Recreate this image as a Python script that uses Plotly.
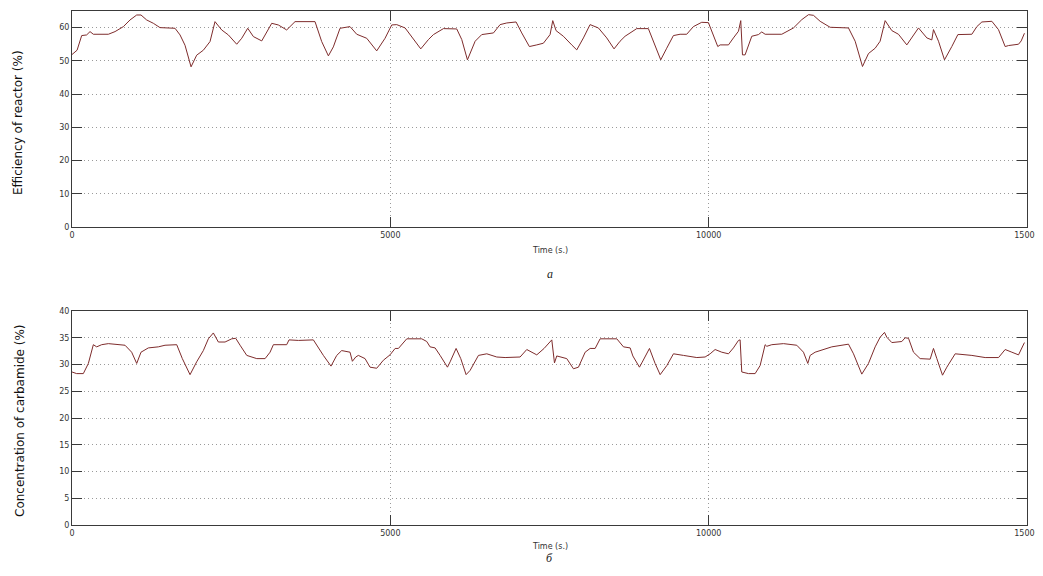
import plotly.graph_objects as go
from plotly.subplots import make_subplots

# ---- data: top panel (efficiency of reactor, %) ----
time_eff = [0, 80, 152, 230, 283, 335, 571, 676, 807, 911, 1016, 1084, 1173, 1278, 1382,
            1618, 1697, 1775, 1870, 1958, 2063, 2168, 2246, 2351, 2456, 2587, 2666, 2760,
            2849, 2980, 3137, 3241, 3372, 3503, 3817, 3922, 4027, 4105, 4210, 4367, 4472,
            4629, 4786, 4917, 5022, 5100, 5232, 5363, 5478, 5598, 5677, 5834, 6043, 6122,
            6211, 6332, 6436, 6620, 6724, 6829, 6975, 7064, 7184, 7300, 7404, 7509, 7551,
            7603, 7718, 7849, 7928, 8033, 8137, 8268, 8399, 8514, 8608, 8687, 8765, 8870,
            9053, 9132, 9247, 9341, 9446, 9551, 9655, 9760, 9891, 9996, 10049, 10143,
            10180, 10311, 10389, 10468, 10504, 10531, 10572, 10677, 10782, 10834, 10887,
            11148, 11332, 11463, 11568, 11646, 11751, 11908, 12196, 12301, 12416, 12510,
            12615, 12693, 12772, 12877, 12981, 13112, 13296, 13427, 13505, 13531, 13610,
            13704, 13819, 13914, 14134, 14212, 14291, 14448, 14552, 14657, 14710, 14867,
            14909, 14960]
efficiency = [51.9, 53.2, 57.6, 57.8, 58.8, 58.0, 58.0, 58.8, 60.3, 62.3, 63.8, 63.8, 62.3,
              61.3, 60.0, 59.8, 57.8, 54.7, 48.2, 51.7, 53.2, 55.8, 61.8, 59.3, 57.8, 55.0,
              56.8, 59.8, 57.3, 56.0, 61.3, 60.8, 59.3, 61.8, 61.8, 55.8, 51.5, 54.2, 59.8,
              60.3, 58.0, 56.8, 53.0, 56.8, 60.8, 60.9, 59.9, 56.4, 53.6, 56.4, 57.9, 59.7,
              59.6, 56.4, 50.3, 55.9, 57.9, 58.4, 60.9, 61.4, 61.7, 58.4, 54.3, 54.8, 55.3,
              57.9, 62.1, 59.1, 57.4, 54.8, 53.3, 56.9, 60.9, 59.9, 56.9, 53.6, 55.9, 57.4,
              58.4, 59.7, 59.7, 55.9, 50.3, 53.8, 57.6, 58.0, 58.0, 60.3, 61.6, 61.5, 58.9,
              54.3, 54.8, 54.8, 56.9, 58.9, 62.1, 51.8, 51.8, 57.4, 57.9, 58.7, 58.0, 58.0,
              59.9, 62.4, 63.9, 63.7, 61.9, 60.1, 59.9, 55.9, 48.3, 52.2, 53.8, 55.9, 62.1,
              59.1, 58.0, 54.8, 59.9, 56.9, 56.3, 59.4, 55.9, 50.3, 54.3, 57.9, 58.0, 60.3,
              61.7, 61.9, 59.4, 54.3, 54.6, 55.0, 56.0, 58.3]

# ---- data: bottom panel (concentration of carbamide, %) ----
time_conc = [0, 73, 178, 257, 335, 388, 466, 571, 833, 937, 1016, 1084, 1199, 1356, 1461,
             1645, 1733, 1854, 1958, 2063, 2142, 2220, 2299, 2404, 2509, 2571, 2640, 2745,
             2902, 3033, 3111, 3163, 3372, 3409, 3556, 3791, 3948, 4068, 4158, 4236, 4367,
             4404, 4457, 4498, 4603, 4681, 4786, 4891, 4995, 5075, 5127, 5258, 5494, 5572,
             5624, 5703, 5782, 5897, 5939, 6033, 6106, 6190, 6253, 6384, 6515, 6672, 6803,
             7038, 7143, 7300, 7415, 7536, 7578, 7614, 7771, 7876, 7955, 8060, 8138, 8217,
             8295, 8557, 8662, 8767, 8809, 8913, 8950, 9070, 9159, 9238, 9343, 9447, 9605,
             9814, 9944, 10023, 10101, 10206, 10311, 10389, 10468, 10494, 10520, 10625,
             10730, 10808, 10887, 10913, 10991, 11175, 11384, 11489, 11557, 11594, 11672,
             11934, 12196, 12275, 12405, 12510, 12615, 12693, 12762, 12798, 12877, 13034,
             13086, 13139, 13217, 13322, 13479, 13531, 13584, 13673, 13741, 13872, 14134,
             14343, 14553, 14657, 14762, 14867, 14960]
concentration = [28.6, 28.3, 28.3, 30.2, 33.7, 33.3, 33.7, 33.9, 33.6, 32.3, 30.2, 32.3,
                 33.1, 33.3, 33.6, 33.7, 31.1, 28.1, 30.5, 32.6, 34.8, 35.9, 34.2, 34.2,
                 34.8, 34.9, 33.6, 31.7, 31.1, 31.1, 32.3, 33.7, 33.7, 34.6, 34.5, 34.6,
                 31.7, 29.7, 31.7, 32.6, 32.3, 30.6, 31.4, 31.7, 31.1, 29.5, 29.3, 30.8,
                 31.8, 33.0, 33.0, 34.8, 34.8, 34.3, 33.3, 33.1, 31.7, 29.5, 30.5, 33.0,
                 31.1, 28.1, 28.9, 31.7, 32.0, 31.4, 31.3, 31.4, 32.8, 31.8, 33.0, 34.6,
                 30.3, 31.6, 31.1, 29.2, 29.5, 32.3, 33.0, 33.0, 34.8, 34.8, 33.3, 33.1,
                 31.6, 29.5, 30.3, 33.0, 30.2, 28.1, 29.8, 32.0, 31.7, 31.3, 31.4, 32.0,
                 32.8, 32.3, 32.0, 33.1, 34.5, 34.6, 28.6, 28.3, 28.3, 29.8, 33.7, 33.4,
                 33.7, 33.9, 33.6, 32.3, 30.2, 31.7, 32.3, 33.3, 33.8, 32.0, 28.2, 30.2,
                 33.3, 35.1, 36.0, 35.1, 34.1, 34.3, 35.0, 34.9, 32.3, 31.1, 31.0, 33.0,
                 31.1, 28.0, 29.5, 32.0, 31.7, 31.3, 31.3, 32.8, 32.3, 31.8, 34.1]

x_ticks = [0, 5000, 10000, 15000]
eff_ticks = [0, 10, 20, 30, 40, 50, 60]
conc_ticks = [0, 5, 10, 15, 20, 25, 30, 35, 40]

LINE = "#7e2c2c"
AX = "#3a3a3a"
GRID = "#9a9a9a"
TICKFONT = dict(family="DejaVu Sans", size=8, color="#333333")

# page body has an 8px margin; figure spans to the window's right edge, no vertical overflow
OFF = 8
W, H = 1043 - OFF, 576 - 2 * OFF
ML = 72 - OFF
MR = W + OFF - 1027
MT = 11 - OFF
MB = H + OFF - 525
PH = H - MT - MB
PW = W - ML - MR

fig = make_subplots(rows=2, cols=1, vertical_spacing=0.16)
fig.add_trace(go.Scatter(x=time_eff, y=efficiency, mode="lines",
                         line=dict(color=LINE, width=1), showlegend=False), row=1, col=1)
fig.add_trace(go.Scatter(x=time_conc, y=concentration, mode="lines",
                         line=dict(color=LINE, width=1), showlegend=False), row=2, col=1)

common_x = dict(range=[0, 15000], tickvals=x_ticks, ticktext=[str(v) for v in x_ticks],
                showline=True, linecolor=AX, linewidth=1, mirror="ticks",
                ticks="inside", ticklen=10, tickcolor=AX, tickwidth=1,
                showgrid=True, gridcolor=GRID, griddash="1px,3px", gridwidth=1,
                zeroline=False, tickfont=TICKFONT, ticklabeloverflow="allow")
common_y = dict(showline=True, linecolor=AX, linewidth=1, mirror="ticks",
                ticks="inside", ticklen=10, tickcolor=AX, tickwidth=1,
                showgrid=True, gridcolor=GRID, griddash="1px,3px", gridwidth=1,
                zeroline=False, tickfont=TICKFONT, ticklabeloverflow="allow")

fig.update_xaxes(**common_x)
fig.update_yaxes(**common_y)
fig.update_yaxes(range=[0, 65], tickvals=eff_ticks, row=1, col=1)
fig.update_yaxes(range=[0, 40], tickvals=conc_ticks, row=2, col=1)

def fy(ypx):
    return (525 - ypx) / PH

def fx(xpx):
    return (xpx - 72) / PW

top_dom = [fy(227), 1.0]
bot_dom = [0.0, fy(311)]

fig.update_layout(
    width=W, height=H,
    margin=dict(l=ML, r=MR, t=MT, b=MB, autoexpand=False),
    paper_bgcolor="white", plot_bgcolor="white",
    yaxis=dict(domain=top_dom), yaxis2=dict(domain=bot_dom),
    xaxis=dict(domain=[0, 1]), xaxis2=dict(domain=[0, 1]),
)

ann = []
ann.append(dict(text="Efficiency of reactor (%)", xref="paper", yref="paper",
                x=fx(18), y=fy(123), textangle=-90,
                showarrow=False, xanchor="center", yanchor="middle",
                font=dict(family="DejaVu Sans", size=12, color="#111111")))
ann.append(dict(text="Concentration of carbamide (%)", xref="paper", yref="paper",
                x=fx(20), y=fy(421), textangle=-90,
                showarrow=False, xanchor="center", yanchor="middle",
                font=dict(family="DejaVu Sans", size=12, color="#111111")))
for ypx in (250, 546):
    ann.append(dict(text="Time (s.)", xref="paper", yref="paper", x=0.5,
                    y=fy(ypx), showarrow=False, xanchor="center", yanchor="middle",
                    font=dict(family="DejaVu Sans", size=8, color="#333333")))
for ypx, letter in ((274, "а"), (558, "б")):
    ann.append(dict(text="<i>" + letter + "</i>", xref="paper", yref="paper", x=0.5,
                    y=fy(ypx), showarrow=False, xanchor="center", yanchor="middle",
                    font=dict(family="Liberation Serif", size=12, color="#222222")))
fig.update_layout(annotations=ann)

fig.write_html("out.html")
